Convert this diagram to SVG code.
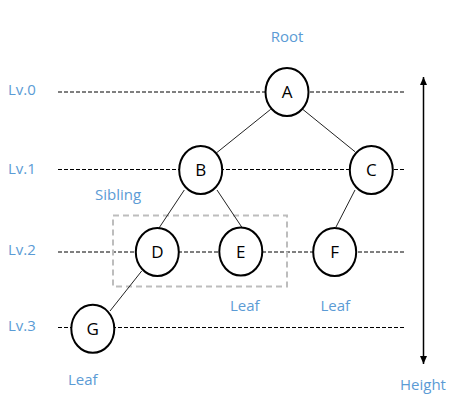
<svg xmlns="http://www.w3.org/2000/svg" width="460" height="411" viewBox="0 0 460 411">
<style>
.lbl{font-family:"Open Sans","Noto Sans","Liberation Sans",sans-serif;font-size:15px;fill:#5b9bd5}
.lv{stroke:#000;stroke-width:1;stroke-dasharray:4 2;fill:none}
.edge{stroke:#222;stroke-width:1;fill:none}
.node ellipse{fill:#fff;stroke:#000;stroke-width:2}
.node text{font-family:"Open Sans","Noto Sans","Liberation Sans",sans-serif;font-size:17px;fill:#000;text-anchor:middle}
</style>
<defs>
<marker id="arr" markerUnits="userSpaceOnUse" markerWidth="9" markerHeight="8" refX="8" refY="3.5" orient="auto-start-reverse">
<path d="M0,0 L8,3.5 L0,7 z" fill="#000"/>
</marker>
</defs>
<rect width="460" height="411" fill="#fff"/>
<g id="levels">
<line class="lv" x1="58" y1="92" x2="404" y2="92"/>
<line class="lv" x1="58" y1="169.5" x2="404" y2="169.5"/>
<line class="lv" x1="58" y1="252" x2="404" y2="252"/>
<line class="lv" x1="58" y1="327.5" x2="404" y2="327.5"/>
</g>
<g id="level-labels">
<text class="lbl" x="8" y="95">Lv.0</text>
<text class="lbl" x="8" y="174">Lv.1</text>
<text class="lbl" x="8" y="255">Lv.2</text>
<text class="lbl" x="8" y="331">Lv.3</text>
</g>
<g id="sibling-box">
<rect x="113" y="215.5" width="174" height="71" fill="none" stroke="#bdbdbd" stroke-width="2" stroke-dasharray="6 4"/>
</g>
<g id="connectors">
<line class="edge" x1="270.7" y1="109.3" x2="216.7" y2="152.7"/>
<line class="edge" x1="302.7" y1="109.3" x2="355" y2="151.7"/>
<line class="edge" x1="184.3" y1="190" x2="159" y2="228"/>
<line class="edge" x1="217" y1="190" x2="241.7" y2="227"/>
<line class="edge" x1="355" y1="190" x2="336" y2="227"/>
<line class="edge" x1="141.7" y1="271" x2="110" y2="311"/>
</g>
<g id="node-A" class="node"><ellipse cx="287" cy="92" rx="21.5" ry="24"/><text x="287" y="98">A</text></g>
<g id="node-B" class="node"><ellipse cx="200.7" cy="170" rx="21.5" ry="24"/><text x="200.7" y="176">B</text></g>
<g id="node-C" class="node"><ellipse cx="371.3" cy="170" rx="21.5" ry="24"/><text x="371.3" y="176">C</text></g>
<g id="node-D" class="node"><ellipse cx="157.3" cy="252" rx="21.5" ry="24"/><text x="157.3" y="258">D</text></g>
<g id="node-E" class="node"><ellipse cx="240.8" cy="251.5" rx="21.5" ry="24"/><text x="240.8" y="257.5">E</text></g>
<g id="node-F" class="node"><ellipse cx="334.7" cy="252" rx="21.5" ry="24"/><text x="334.7" y="258">F</text></g>
<g id="node-G" class="node"><ellipse cx="92.8" cy="328.8" rx="21.5" ry="24"/><text x="92.8" y="334.8">G</text></g>
<g id="height-arrow">
<line x1="423.5" y1="77" x2="423.5" y2="364" stroke="#000" stroke-width="1.5" marker-start="url(#arr)" marker-end="url(#arr)"/>
</g>
<g id="annotations">
<text class="lbl" x="287" y="42" text-anchor="middle">Root</text>
<text class="lbl" x="95" y="200">Sibling</text>
<text class="lbl" x="230" y="311">Leaf</text>
<text class="lbl" x="320.5" y="311">Leaf</text>
<text class="lbl" x="68" y="385">Leaf</text>
<text class="lbl" x="400" y="390">Height</text>
</g>
</svg>
